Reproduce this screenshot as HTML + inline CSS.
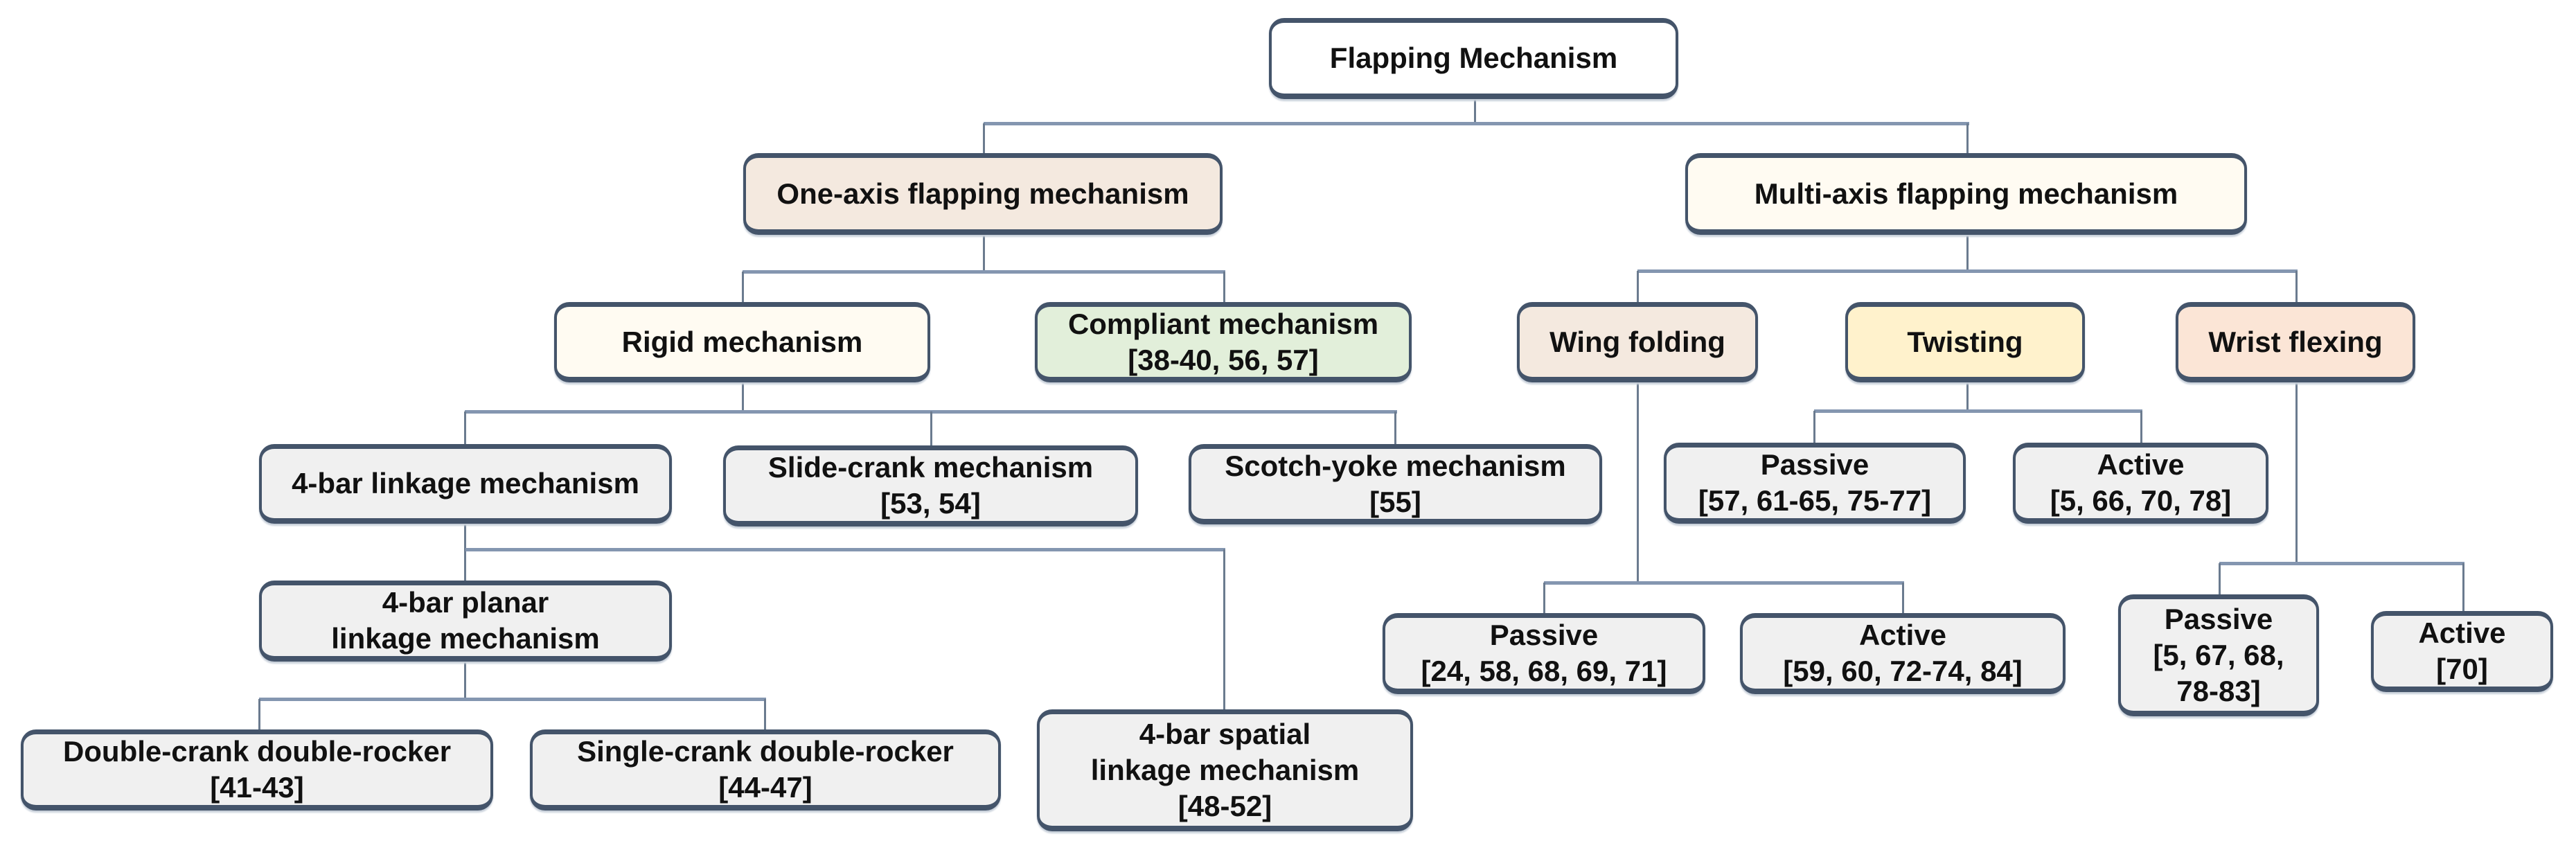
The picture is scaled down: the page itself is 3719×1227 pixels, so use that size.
<!DOCTYPE html>
<html><head><meta charset="utf-8"><style>
body{margin:0;width:3719px;height:1227px;background:#fff;position:relative;overflow:hidden;font-family:"Liberation Sans",sans-serif}
.b{position:absolute;box-sizing:border-box;border:4px solid #44546a;border-top-width:7px;border-bottom-width:8px;border-radius:22px;background:#f0f0f0;display:flex;align-items:center;justify-content:center;text-align:center;font-weight:bold;font-size:42px;line-height:52px;color:#111;white-space:nowrap;box-shadow:0 3px 2px #c8d0da}
.h{position:absolute;height:5px;background:#8496b0}
.v{position:absolute;width:3px;background:#6b7b8f}
</style></head><body>
<div class="v" style="left:2128px;top:143px;height:37px"></div>
<div class="h" style="left:1420px;top:176px;width:1423px"></div>
<div class="v" style="left:1419px;top:178px;height:44px"></div>
<div class="v" style="left:2839px;top:178px;height:44px"></div>

<div class="v" style="left:1419px;top:339px;height:54px"></div>
<div class="h" style="left:1072px;top:390px;width:697px"></div>
<div class="v" style="left:1071px;top:392px;height:45px"></div>
<div class="v" style="left:1766px;top:392px;height:45px"></div>

<div class="v" style="left:2839px;top:339px;height:54px"></div>
<div class="h" style="left:2364px;top:389px;width:953px"></div>
<div class="v" style="left:2363px;top:391px;height:46px"></div>
<div class="v" style="left:3314px;top:391px;height:46px"></div>

<div class="v" style="left:1071px;top:552px;height:43px"></div>
<div class="h" style="left:671px;top:592px;width:1346px"></div>
<div class="v" style="left:670px;top:594px;height:48px"></div>
<div class="v" style="left:1343px;top:594px;height:50px"></div>
<div class="v" style="left:2013px;top:594px;height:48px"></div>

<div class="v" style="left:670px;top:756px;height:83px"></div>
<div class="h" style="left:672px;top:791px;width:1097px"></div>
<div class="v" style="left:1766px;top:793px;height:232px"></div>

<div class="v" style="left:670px;top:955px;height:54px"></div>
<div class="h" style="left:374px;top:1007px;width:732px"></div>
<div class="v" style="left:373px;top:1009px;height:45px"></div>
<div class="v" style="left:1103px;top:1009px;height:45px"></div>

<div class="v" style="left:2839px;top:552px;height:42px"></div>
<div class="h" style="left:2619px;top:591px;width:474px"></div>
<div class="v" style="left:2618px;top:593px;height:47px"></div>
<div class="v" style="left:3090px;top:593px;height:47px"></div>

<div class="v" style="left:2363px;top:552px;height:290px"></div>
<div class="h" style="left:2229px;top:839px;width:520px"></div>
<div class="v" style="left:2228px;top:841px;height:45px"></div>
<div class="v" style="left:2746px;top:841px;height:45px"></div>

<div class="v" style="left:3314px;top:552px;height:262px"></div>
<div class="h" style="left:3204px;top:811px;width:354px"></div>
<div class="v" style="left:3203px;top:813px;height:46px"></div>
<div class="v" style="left:3555px;top:813px;height:70px"></div>

<div class="b" style="left:1832px;top:26px;width:591px;height:117px;background:#fff">Flapping Mechanism</div>
<div class="b" style="left:1073px;top:221px;width:692px;height:118px;background:#f4e9df">One-axis flapping mechanism</div>
<div class="b" style="left:2433px;top:221px;width:811px;height:118px;background:#fffbf2">Multi-axis flapping mechanism</div>
<div class="b" style="left:800px;top:436px;width:543px;height:116px;background:#fffbf2">Rigid mechanism</div>
<div class="b" style="left:1494px;top:436px;width:544px;height:116px;background:#e2efda">Compliant mechanism<br>[38-40, 56, 57]</div>
<div class="b" style="left:2190px;top:436px;width:348px;height:116px;background:#f4e9df">Wing folding</div>
<div class="b" style="left:2664px;top:436px;width:346px;height:116px;background:#fff2cc">Twisting</div>
<div class="b" style="left:3141px;top:436px;width:346px;height:116px;background:#fbe5d6">Wrist flexing</div>
<div class="b" style="left:374px;top:641px;width:596px;height:115px">4-bar linkage mechanism</div>
<div class="b" style="left:1044px;top:643px;width:599px;height:117px">Slide-crank mechanism<br>[53, 54]</div>
<div class="b" style="left:1716px;top:641px;width:597px;height:116px">Scotch-yoke mechanism<br>[55]</div>
<div class="b" style="left:2402px;top:639px;width:436px;height:117px">Passive<br>[57, 61-65, 75-77]</div>
<div class="b" style="left:2906px;top:639px;width:369px;height:117px">Active<br>[5, 66, 70, 78]</div>
<div class="b" style="left:374px;top:838px;width:596px;height:117px">4-bar planar<br>linkage mechanism</div>
<div class="b" style="left:1996px;top:885px;width:466px;height:117px">Passive<br>[24, 58, 68, 69, 71]</div>
<div class="b" style="left:2512px;top:885px;width:470px;height:117px">Active<br>[59, 60, 72-74, 84]</div>
<div class="b" style="left:3058px;top:858px;width:290px;height:176px">Passive<br>[5, 67, 68,<br>78-83]</div>
<div class="b" style="left:3423px;top:882px;width:263px;height:117px">Active<br>[70]</div>
<div class="b" style="left:30px;top:1053px;width:682px;height:117px">Double-crank double-rocker<br>[41-43]</div>
<div class="b" style="left:765px;top:1053px;width:680px;height:117px">Single-crank double-rocker<br>[44-47]</div>
<div class="b" style="left:1497px;top:1024px;width:543px;height:176px">4-bar spatial<br>linkage mechanism<br>[48-52]</div>
</body></html>
